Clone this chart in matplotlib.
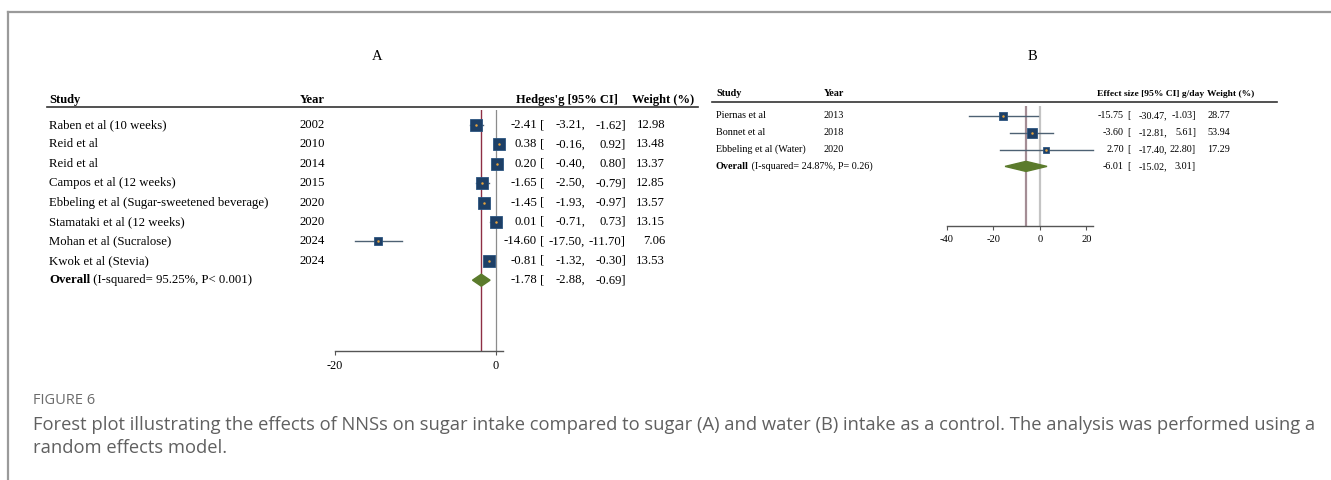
import matplotlib.pyplot as plt
from matplotlib.patches import Polygon

# Panel A: NNS vs sugar (Hedges' g)
studies_a = ['Raben et al (10 weeks)', 'Reid et al', 'Reid et al', 'Campos et al (12 weeks)',
             'Ebbeling et al (Sugar-sweetened beverage)', 'Stamataki et al (12 weeks)',
             'Mohan et al (Sucralose)', 'Kwok et al (Stevia)']
years_a = [2002, 2010, 2014, 2015, 2020, 2020, 2024, 2024]
g_a = [-2.41, 0.38, 0.20, -1.65, -1.45, 0.01, -14.60, -0.81]
lo_a = [-3.21, -0.16, -0.40, -2.50, -1.93, -0.71, -17.50, -1.32]
hi_a = [-1.62, 0.92, 0.80, -0.79, -0.97, 0.73, -11.70, -0.30]
w_a = [12.98, 13.48, 13.37, 12.85, 13.57, 13.15, 7.06, 13.53]
overall_a = [-1.78, -2.88, -0.69]
het_a = ' (I-squared= 95.25%, P< 0.001)'
ticks_a = [-20, 0]

# Panel B: NNS vs water (g/day)
studies_b = ['Piernas et al', 'Bonnet et al', 'Ebbeling et al (Water)']
years_b = [2013, 2018, 2020]
es_b = [-15.75, -3.60, 2.70]
lo_b = [-30.47, -12.81, -17.40]
hi_b = [-1.03, 5.61, 22.80]
w_b = [28.77, 53.94, 17.29]
overall_b = [-6.01, -15.02, 3.01]
het_b = ' (I-squared= 24.87%, P= 0.26)'
ticks_b = [-40, -20, 0, 20]

W, H = 1331, 480
SERIF = 'Liberation Serif'
SQ = '#1d3f66'
DOT = '#e6a23c'
CI = '#4d6173'
DIA = '#5b7b2c'

fig = plt.figure(figsize=(W / 100, H / 100), dpi=100)

# pixel-space layer for text, rules and the page frame
bg = fig.add_axes([0, 0, 1, 1])
bg.set_xlim(0, W)
bg.set_ylim(H, 0)
bg.axis('off')


def pax(left, top, right, bottom):
    return fig.add_axes([left / W, 1 - bottom / H, (right - left) / W, (bottom - top) / H])


def forest(ax, est, lo, hi, w, overall, xlim, ylim, ticks, tick_fs, k, dh, null_c, pool_c):
    ax.set_xlim(*xlim)
    ax.set_ylim(*ylim)
    ax.patch.set_alpha(0)
    for s in ['top', 'right', 'left']:
        ax.spines[s].set_visible(False)
    ax.spines['bottom'].set_color('#555555')
    ax.spines['bottom'].set_linewidth(1.0)
    ax.set_yticks([])
    ax.set_xticks(ticks)
    ax.set_xticklabels([str(t) for t in ticks], fontsize=tick_fs, family=SERIF)
    ax.tick_params(axis='x', length=3, width=0.8, color='#555555', pad=3.5)
    ax.axvline(0, color=null_c[0], lw=null_c[1], zorder=1)
    ax.axvline(overall[0], color=pool_c[0], lw=pool_c[1], zorder=1)
    for i in range(len(est)):
        ax.plot([lo[i], hi[i]], [i, i], color=CI, lw=1.0, clip_on=False, zorder=2)
        ax.plot(est[i], i, marker='s', ms=k * w[i] ** 0.5, mfc=SQ, mec='#2b5580',
                mew=0.6, clip_on=False, zorder=3)
        ax.plot(est[i], i, marker='o', ms=1.8, mfc=DOT, mec='none', clip_on=False, zorder=4)
    y = len(est)
    dia = Polygon([[overall[1], y], [overall[0], y - dh], [overall[2], y], [overall[0], y + dh]],
                  closed=True, facecolor=DIA, edgecolor=DIA, zorder=3, clip_on=False)
    ax.add_patch(dia)


def row_text(xs, y, vals, fs, weight=None):
    e, l, h = vals
    bg.text(xs[0], y, f'{e:.2f}', ha='right', va='center', fontsize=fs, family=SERIF)
    bg.text(xs[1], y, '[', ha='left', va='center', fontsize=fs, family=SERIF)
    bg.text(xs[2], y, f'{l:.2f},', ha='right', va='center', fontsize=fs, family=SERIF)
    bg.text(xs[3], y, f'{h:.2f}]', ha='right', va='center', fontsize=fs, family=SERIF)
    if weight is not None:
        bg.text(xs[4], y, f'{weight:.2f}', ha='right', va='center', fontsize=fs, family=SERIF)


# ---- panel A ----
fs_a = 9.2
row0_a, step_a = 125, 19.4
ax_a = pax(335, 110, 503, 351)
forest(ax_a, g_a, lo_a, hi_a, w_a, overall_a, (-20, 0.92),
       ((351 - row0_a) / step_a, -(row0_a - 110) / step_a), ticks_a, 8.8,
       2.4, 0.31, ('#8c8c8c', 0.9), ('#8e2f44', 1.0))

bg.text(377, 57, 'A', ha='center', va='center', fontsize=10.5, family=SERIF)
bg.text(49, 100, 'Study', ha='left', va='center', fontsize=9.0, family=SERIF, weight='bold')
bg.text(300, 100, 'Year', ha='left', va='center', fontsize=9.0, family=SERIF, weight='bold')
bg.text(618, 100, "Hedges'g [95% CI]", ha='right', va='center', fontsize=9.0, family=SERIF,
        weight='bold')
bg.text(694, 100, 'Weight (%)', ha='right', va='center', fontsize=9.0, family=SERIF,
        weight='bold')
bg.plot([47, 698], [107, 107], color='#333333', lw=1.2)

cols_a = [537, 540, 585, 626, 665]
for i, name in enumerate(studies_a):
    y = row0_a + step_a * i
    bg.text(49, y, name, ha='left', va='center', fontsize=fs_a, family=SERIF)
    bg.text(300, y, str(years_a[i]), ha='left', va='center', fontsize=fs_a, family=SERIF)
    row_text(cols_a, y, (g_a[i], lo_a[i], hi_a[i]), fs_a, w_a[i])
y_ov = row0_a + step_a * len(studies_a)
t = bg.text(49, y_ov, 'Overall', ha='left', va='center', fontsize=fs_a, family=SERIF,
            weight='bold')
bg.annotate(het_a, xy=(1, 0.5), xycoords=t, ha='left', va='center', fontsize=fs_a, family=SERIF)
row_text(cols_a, y_ov, overall_a, fs_a)

# ---- panel B ----
fs_b = 7.3
row0_b, step_b = 116, 16.8
ax_b = pax(947, 106, 1093, 226)
forest(ax_b, es_b, lo_b, hi_b, w_b, overall_b, (-40, 22.8),
       ((226 - row0_b) / step_b, -(row0_b - 106) / step_b), ticks_b, 7.6,
       1.0, 0.3, ('#c4c4c4', 1.6), ('#a48d95', 1.6))

bg.text(1032, 56, 'B', ha='center', va='center', fontsize=10.5, family=SERIF)
bg.text(716, 94, 'Study', ha='left', va='center', fontsize=fs_b, family=SERIF, weight='bold')
bg.text(824, 94, 'Year', ha='left', va='center', fontsize=fs_b, family=SERIF, weight='bold')
bg.text(1097, 94, 'Effect size [95% CI] g/day', ha='left', va='center', fontsize=6.8,
        family=SERIF, weight='bold')
bg.text(1207, 94, 'Weight (%)', ha='left', va='center', fontsize=6.8, family=SERIF,
        weight='bold')
bg.plot([712, 1277], [102, 102], color='#333333', lw=1.2)

cols_b = [1124, 1127, 1167, 1196, 1230]
for i, name in enumerate(studies_b):
    y = row0_b + step_b * i
    bg.text(716, y, name, ha='left', va='center', fontsize=fs_b, family=SERIF)
    bg.text(824, y, str(years_b[i]), ha='left', va='center', fontsize=fs_b, family=SERIF)
    row_text(cols_b, y, (es_b[i], lo_b[i], hi_b[i]), fs_b, w_b[i])
y_ov = row0_b + step_b * len(studies_b)
t = bg.text(716, y_ov, 'Overall', ha='left', va='center', fontsize=fs_b, family=SERIF,
            weight='bold')
bg.annotate(het_b, xy=(1, 0.5), xycoords=t, ha='left', va='center', fontsize=fs_b, family=SERIF)
row_text(cols_b, y_ov, overall_b, fs_b)

# ---- caption and page frame ----
bg.plot([8, W], [12, 12], color='#9a9a9a', lw=1.6)
bg.plot([8, 8], [12, H], color='#9a9a9a', lw=1.6)
bg.text(33, 400, 'FIGURE 6', ha='left', va='center', fontsize=10.5, family='Open Sans',
        color='#6b6b6b')
bg.text(33, 425, 'Forest plot illustrating the effects of NNSs on sugar intake compared to sugar '
        '(A) and water (B) intake as a control. The analysis was performed using a',
        ha='left', va='center', fontsize=13.25, family='Open Sans', color='#606060')
bg.text(33, 448, 'random effects model.', ha='left', va='center', fontsize=13.25,
        family='Open Sans', color='#606060')

fig.savefig('out.png', dpi=100)
